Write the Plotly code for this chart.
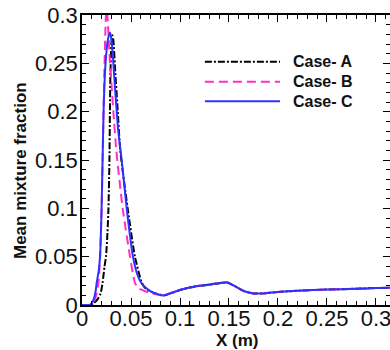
import plotly.graph_objects as go

# Case A (black dash-dot)
xa = [0.0, 0.008, 0.012, 0.016, 0.019, 0.021, 0.023, 0.0245, 0.026, 0.027, 0.028, 0.0285,
      0.029, 0.030, 0.031, 0.032, 0.034, 0.0365, 0.039, 0.0466, 0.054, 0.061, 0.065, 0.07,
      0.075, 0.08, 0.085, 0.09, 0.1, 0.11, 0.12, 0.13, 0.14, 0.148, 0.155, 0.165, 0.175,
      0.185, 0.2, 0.22, 0.25, 0.28, 0.3, 0.32]
ya = [0.0, 0.0, 0.002, 0.006, 0.012, 0.023, 0.04, 0.05, 0.075, 0.1, 0.15, 0.2,
      0.24, 0.27, 0.279, 0.274, 0.24, 0.2, 0.16, 0.1, 0.05, 0.023, 0.017, 0.014,
      0.012, 0.0105, 0.0102, 0.012, 0.0155, 0.018, 0.0198, 0.021, 0.0225, 0.0232, 0.02, 0.0145, 0.012,
      0.012, 0.0135, 0.0148, 0.016, 0.0168, 0.0175, 0.018]

# Case B (magenta dashed)
xb = [0.0, 0.009, 0.012, 0.015, 0.017, 0.0185, 0.020, 0.021, 0.022, 0.023, 0.0245, 0.0255,
      0.0265, 0.028, 0.030, 0.032, 0.035, 0.0415, 0.049, 0.054, 0.058, 0.065, 0.075, 0.083,
      0.09, 0.1, 0.11, 0.12, 0.13, 0.14, 0.148, 0.155, 0.165, 0.175, 0.185, 0.2, 0.22,
      0.25, 0.28, 0.3, 0.32]
yb = [0.0, 0.0, 0.003, 0.012, 0.025, 0.05, 0.1, 0.15, 0.2, 0.25, 0.3, 0.305,
      0.29, 0.26, 0.23, 0.2, 0.16, 0.1, 0.05, 0.023, 0.017, 0.014, 0.011, 0.0098,
      0.0122, 0.0157, 0.0183, 0.0202, 0.0215, 0.023, 0.0236, 0.0202, 0.0146, 0.012, 0.012, 0.0135, 0.0148,
      0.016, 0.0168, 0.0175, 0.018]

# Case C (blue solid)
xc = [0.0, 0.008, 0.010, 0.012, 0.014, 0.015, 0.017, 0.0184, 0.020, 0.021, 0.022, 0.024,
      0.0265, 0.0286, 0.030, 0.032, 0.034, 0.037, 0.0405, 0.0456, 0.052, 0.057, 0.061, 0.066,
      0.072, 0.078, 0.083, 0.09, 0.1, 0.11, 0.12, 0.13, 0.14, 0.148, 0.155, 0.165, 0.175,
      0.185, 0.2, 0.22, 0.25, 0.28, 0.3, 0.32]
yc = [0.0, 0.0, 0.002, 0.006, 0.015, 0.023, 0.035, 0.05, 0.1, 0.15, 0.2, 0.25,
      0.275, 0.282, 0.275, 0.25, 0.22, 0.18, 0.15, 0.1, 0.05, 0.03, 0.022, 0.017,
      0.013, 0.011, 0.0098, 0.012, 0.0155, 0.018, 0.0198, 0.021, 0.0225, 0.0232, 0.02, 0.0145, 0.012,
      0.012, 0.0135, 0.0148, 0.016, 0.0168, 0.0175, 0.018]

names = ["Case- A", "Case- B", "Case- C"]
colors = ["#000000", "#ff2ec8", "#3030ff"]
dashes = ["7px,2px,2px,2px", "9px,5px", "solid"]

FONT = "Liberation Sans, Arial"

fig = go.Figure()
for xs, ys, nm, col, ds in zip([xa, xb, xc], [ya, yb, yc], names, colors, dashes):
    fig.add_trace(go.Scatter(x=xs, y=ys, mode="lines", name=nm,
                             line=dict(color=col, width=2, dash=ds, shape="spline", smoothing=0.5),
                             showlegend=False))

# manual legend
leg_y = [0.839, 0.770, 0.703]
for nm, col, ds, yy in zip(names, colors, dashes, leg_y):
    fig.add_shape(type="line", xref="paper", yref="paper", x0=0.399, x1=0.643, y0=yy, y1=yy,
                  line=dict(color=col, width=2, dash=ds))
    fig.add_annotation(xref="paper", yref="paper", x=0.68, y=yy, text="<b>%s</b>" % nm,
                       showarrow=False, xanchor="left", yanchor="middle",
                       font=dict(family=FONT, size=16, color="#111"))

# axis titles
fig.add_annotation(xref="paper", yref="paper", x=0.506, y=-0.122, text="<b>X (m)</b>",
                   showarrow=False, xanchor="center", yanchor="middle",
                   font=dict(family=FONT, size=17, color="#111"))
fig.add_annotation(xref="paper", yref="paper", x=-0.2013, y=0.4655,
                   text="<b>Mean mixture fraction</b>", textangle=-90,
                   showarrow=False, xanchor="center", yanchor="middle",
                   font=dict(family=FONT, size=17, color="#111"))

axis_common = dict(showline=True, linecolor="#000", linewidth=1.5, mirror="ticks",
                   ticks="inside", ticklen=7, tickwidth=1.2, tickcolor="#000",
                   showgrid=False, zeroline=False, automargin=False,
                   ticklabeloverflow="allow",
                   tickfont=dict(family=FONT, size=22, color="#111"))

fig.update_xaxes(range=[0, 0.3143], dtick=0.05, tick0=0, ticklabelstandoff=-7,
                 minor=dict(ticks="inside", dtick=0.01, ticklen=4, tickcolor="#000"),
                 **axis_common)
fig.update_yaxes(range=[0, 0.3], dtick=0.05, tick0=0, ticklabelstandoff=-2,
                 minor=dict(ticks="inside", dtick=0.01, ticklen=4, tickcolor="#000"),
                 **axis_common)

fig.update_layout(width=390, height=350, margin=dict(l=82, r=0, t=15, b=45),
                  plot_bgcolor="white", paper_bgcolor="white", showlegend=False)

fig.write_html("out.html", config={"displayModeBar": False},
               post_script="document.body.style.margin='0';document.body.style.padding='0';")
